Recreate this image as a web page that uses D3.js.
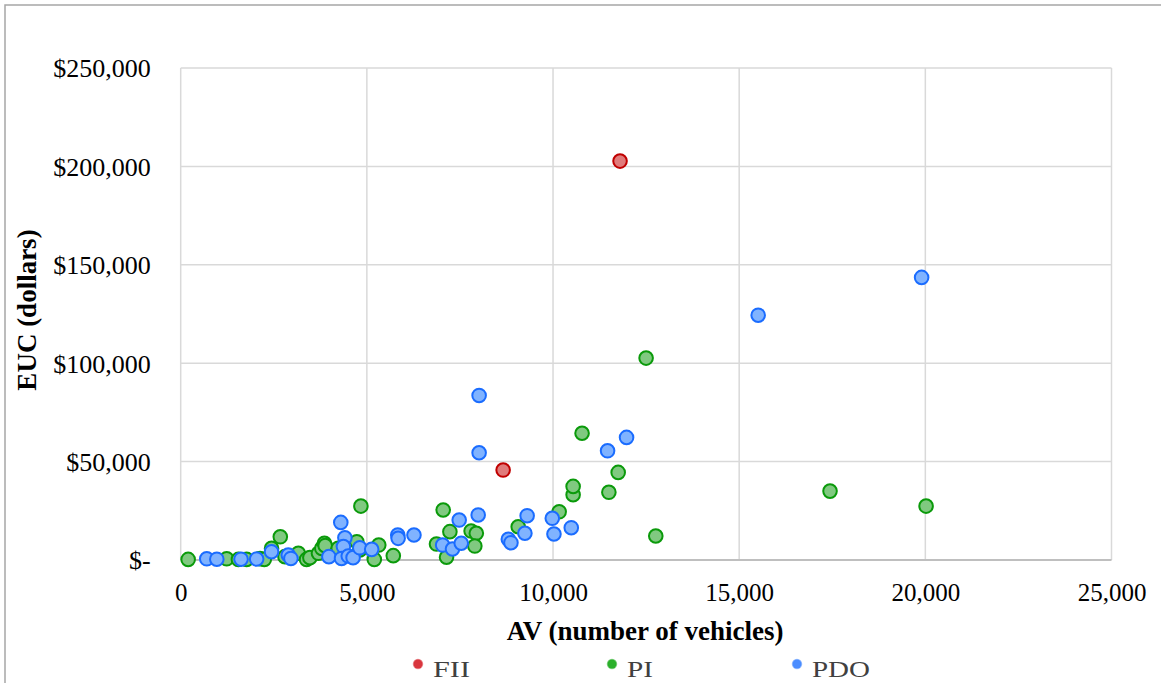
<!DOCTYPE html>
<html>
<head>
<meta charset="utf-8">
<script src="https://cdn.jsdelivr.net/npm/d3@7"></script>
<style>
  html, body { margin: 0; padding: 0; background: #fff; }
  svg { display: block; }
</style>
</head>
<body>
<svg id="chart" width="1161" height="683"></svg>
<script>
// ---- Data ----
const seriesNames = ["FII", "PI", "PDO"];

const fiiPoints = [
  [11800, 202700], [8660, 45700]
];

const piPoints = [
  [200, 300], [1235, 600], [1550, 300], [1770, 300], [2130, 700], [2245, 300],
  [2440, 5900], [2675, 11800], [2800, 1700], [3160, 3400], [3380, 300], [3470, 1200],
  [3700, 3400], [3790, 5900], [3860, 8500], [3880, 7300], [4230, 5900], [4730, 9300],
  [4840, 27400], [4810, 5100], [5200, 300], [5320, 7600], [5710, 2200], [7050, 25400],
  [7230, 14400], [6870, 8100], [7140, 1400], [7800, 14700], [7940, 13600], [7900, 7100],
  [9065, 16900], [10165, 24500], [10540, 33200], [10540, 37400], [10780, 64400],
  [12500, 102600], [11750, 44500], [11500, 34400], [12760, 12200], [17440, 35000],
  [20020, 27400]
];

const pdoPoints = [
  [700, 600], [970, 400], [1620, 400], [2040, 500], [2440, 4200], [2890, 2500],
  [2960, 800], [3980, 1700], [4300, 19100], [4410, 11300], [4370, 6800], [4320, 800],
  [4500, 2000], [4630, 1200], [4810, 6200], [5130, 5400], [5830, 12700], [5840, 11000],
  [6265, 12700], [7035, 7600], [7300, 5600], [7535, 8500], [7480, 20300], [7990, 22900],
  [8800, 10500], [8870, 8800], [9245, 13600], [9305, 22500], [9980, 21200], [10025, 13200],
  [10490, 16400], [8015, 83600], [8015, 54500], [11975, 62300], [11465, 55500],
  [15510, 124400], [19900, 143600]
];

const xTicks = [0, 5000, 10000, 15000, 20000, 25000];
const yTicks = [0, 50000, 100000, 150000, 200000, 250000];

const xTitle = "AV (number of vehicles)";
const yTitle = "EUC (dollars)";

// ---- Styles ----
const styles = {
  FII: { fill: "#e07b7b", stroke: "#c00000", legend: "#d9363e" },
  PI:  { fill: "#80c980", stroke: "#0a9a0a", legend: "#2bb02b" },
  PDO: { fill: "#80b3ff", stroke: "#1a6cff", legend: "#4b8dff" }
};
const font = "'Liberation Serif', 'Times New Roman', serif";

// ---- Layout ----
const svg = d3.select("#chart");
const plot = { left: 180.7, right: 1111.5, top: 68, bottom: 560 };

const x = d3.scaleLinear().domain([0, 25000]).range([plot.left, plot.right]);
const y = d3.scaleLinear().domain([0, 250000]).range([plot.bottom, plot.top]);

// outer chart border
svg.append("rect")
  .attr("x", 5).attr("y", 5).attr("width", 1170).attr("height", 700)
  .attr("fill", "none").attr("stroke", "#a6a6a6").attr("stroke-width", 1.5);

// gridlines
const grid = svg.append("g");
grid.selectAll("line.h").data(yTicks.filter(d => d > 0)).join("line")
  .attr("x1", plot.left).attr("x2", plot.right)
  .attr("y1", d => y(d)).attr("y2", d => y(d))
  .attr("stroke", "#d9d9d9").attr("stroke-width", 1.5);
grid.selectAll("line.v").data(xTicks).join("line")
  .attr("x1", d => x(d)).attr("x2", d => x(d))
  .attr("y1", plot.top).attr("y2", plot.bottom)
  .attr("stroke", "#d9d9d9").attr("stroke-width", 1.5);

// x axis line
svg.append("line")
  .attr("x1", plot.left).attr("x2", plot.right)
  .attr("y1", plot.bottom).attr("y2", plot.bottom)
  .attr("stroke", "#bfbfbf").attr("stroke-width", 2);

// axes labels via d3 axes (no domain/ticks lines)
const fmtComma = d3.format(",");
const xAxis = d3.axisBottom(x).tickValues(xTicks).tickFormat(d => fmtComma(d)).tickSize(0).tickPadding(0);
const gx = svg.append("g").attr("transform", `translate(0,${plot.bottom})`).call(xAxis);
gx.select(".domain").remove();
gx.selectAll("text").attr("y", 41).attr("dy", 0)
  .style("font-family", font).style("font-size", "25px").attr("fill", "#000");

const yAxis = d3.axisLeft(y).tickValues(yTicks)
  .tickFormat(d => d === 0 ? "$-" : "$" + fmtComma(d)).tickSize(0).tickPadding(0);
const gy = svg.append("g").attr("transform", `translate(${plot.left - 30},0)`).call(yAxis);
gy.select(".domain").remove();
gy.selectAll("text").attr("dy", "0.34em").attr("x", 0)
  .style("font-family", font).style("font-size", "26px").attr("fill", "#000");

// axis titles
svg.append("text")
  .attr("x", 645).attr("y", 640).attr("text-anchor", "middle")
  .style("font-family", font).style("font-size", "27px").style("font-weight", "bold")
  .text(xTitle);
svg.append("text")
  .attr("transform", "translate(36,310) rotate(-90)").attr("text-anchor", "middle")
  .style("font-family", font).style("font-size", "27px").style("font-weight", "bold")
  .text(yTitle);

// points
const allSeries = [
  { name: "FII", data: fiiPoints },
  { name: "PI", data: piPoints },
  { name: "PDO", data: pdoPoints }
];
allSeries.forEach(s => {
  svg.append("g").selectAll("circle").data(s.data).join("circle")
    .attr("cx", d => x(d[0])).attr("cy", d => y(d[1])).attr("r", 6.8)
    .attr("fill", styles[s.name].fill).attr("fill-opacity", 1)
    .attr("stroke", styles[s.name].stroke).attr("stroke-width", 2);
});

// legend
const legendPos = { FII: 418, PI: 612, PDO: 797 };
const legendLen = { FII: 37, PI: 26, PDO: 58 };
const lg = svg.append("g");
seriesNames.forEach(n => {
  lg.append("circle").attr("cx", legendPos[n]).attr("cy", 664).attr("r", 4.5)
    .attr("fill", styles[n].legend).attr("stroke", styles[n].legend)
    .attr("stroke-opacity", 0.5).attr("stroke-width", 1.5);
  lg.append("text").attr("x", legendPos[n] + 15).attr("y", 677)
    .attr("textLength", legendLen[n]).attr("lengthAdjust", "spacingAndGlyphs")
    .style("font-family", font).style("font-size", "24px").attr("fill", "#404040")
    .text(n);
});
</script>
</body>
</html>
